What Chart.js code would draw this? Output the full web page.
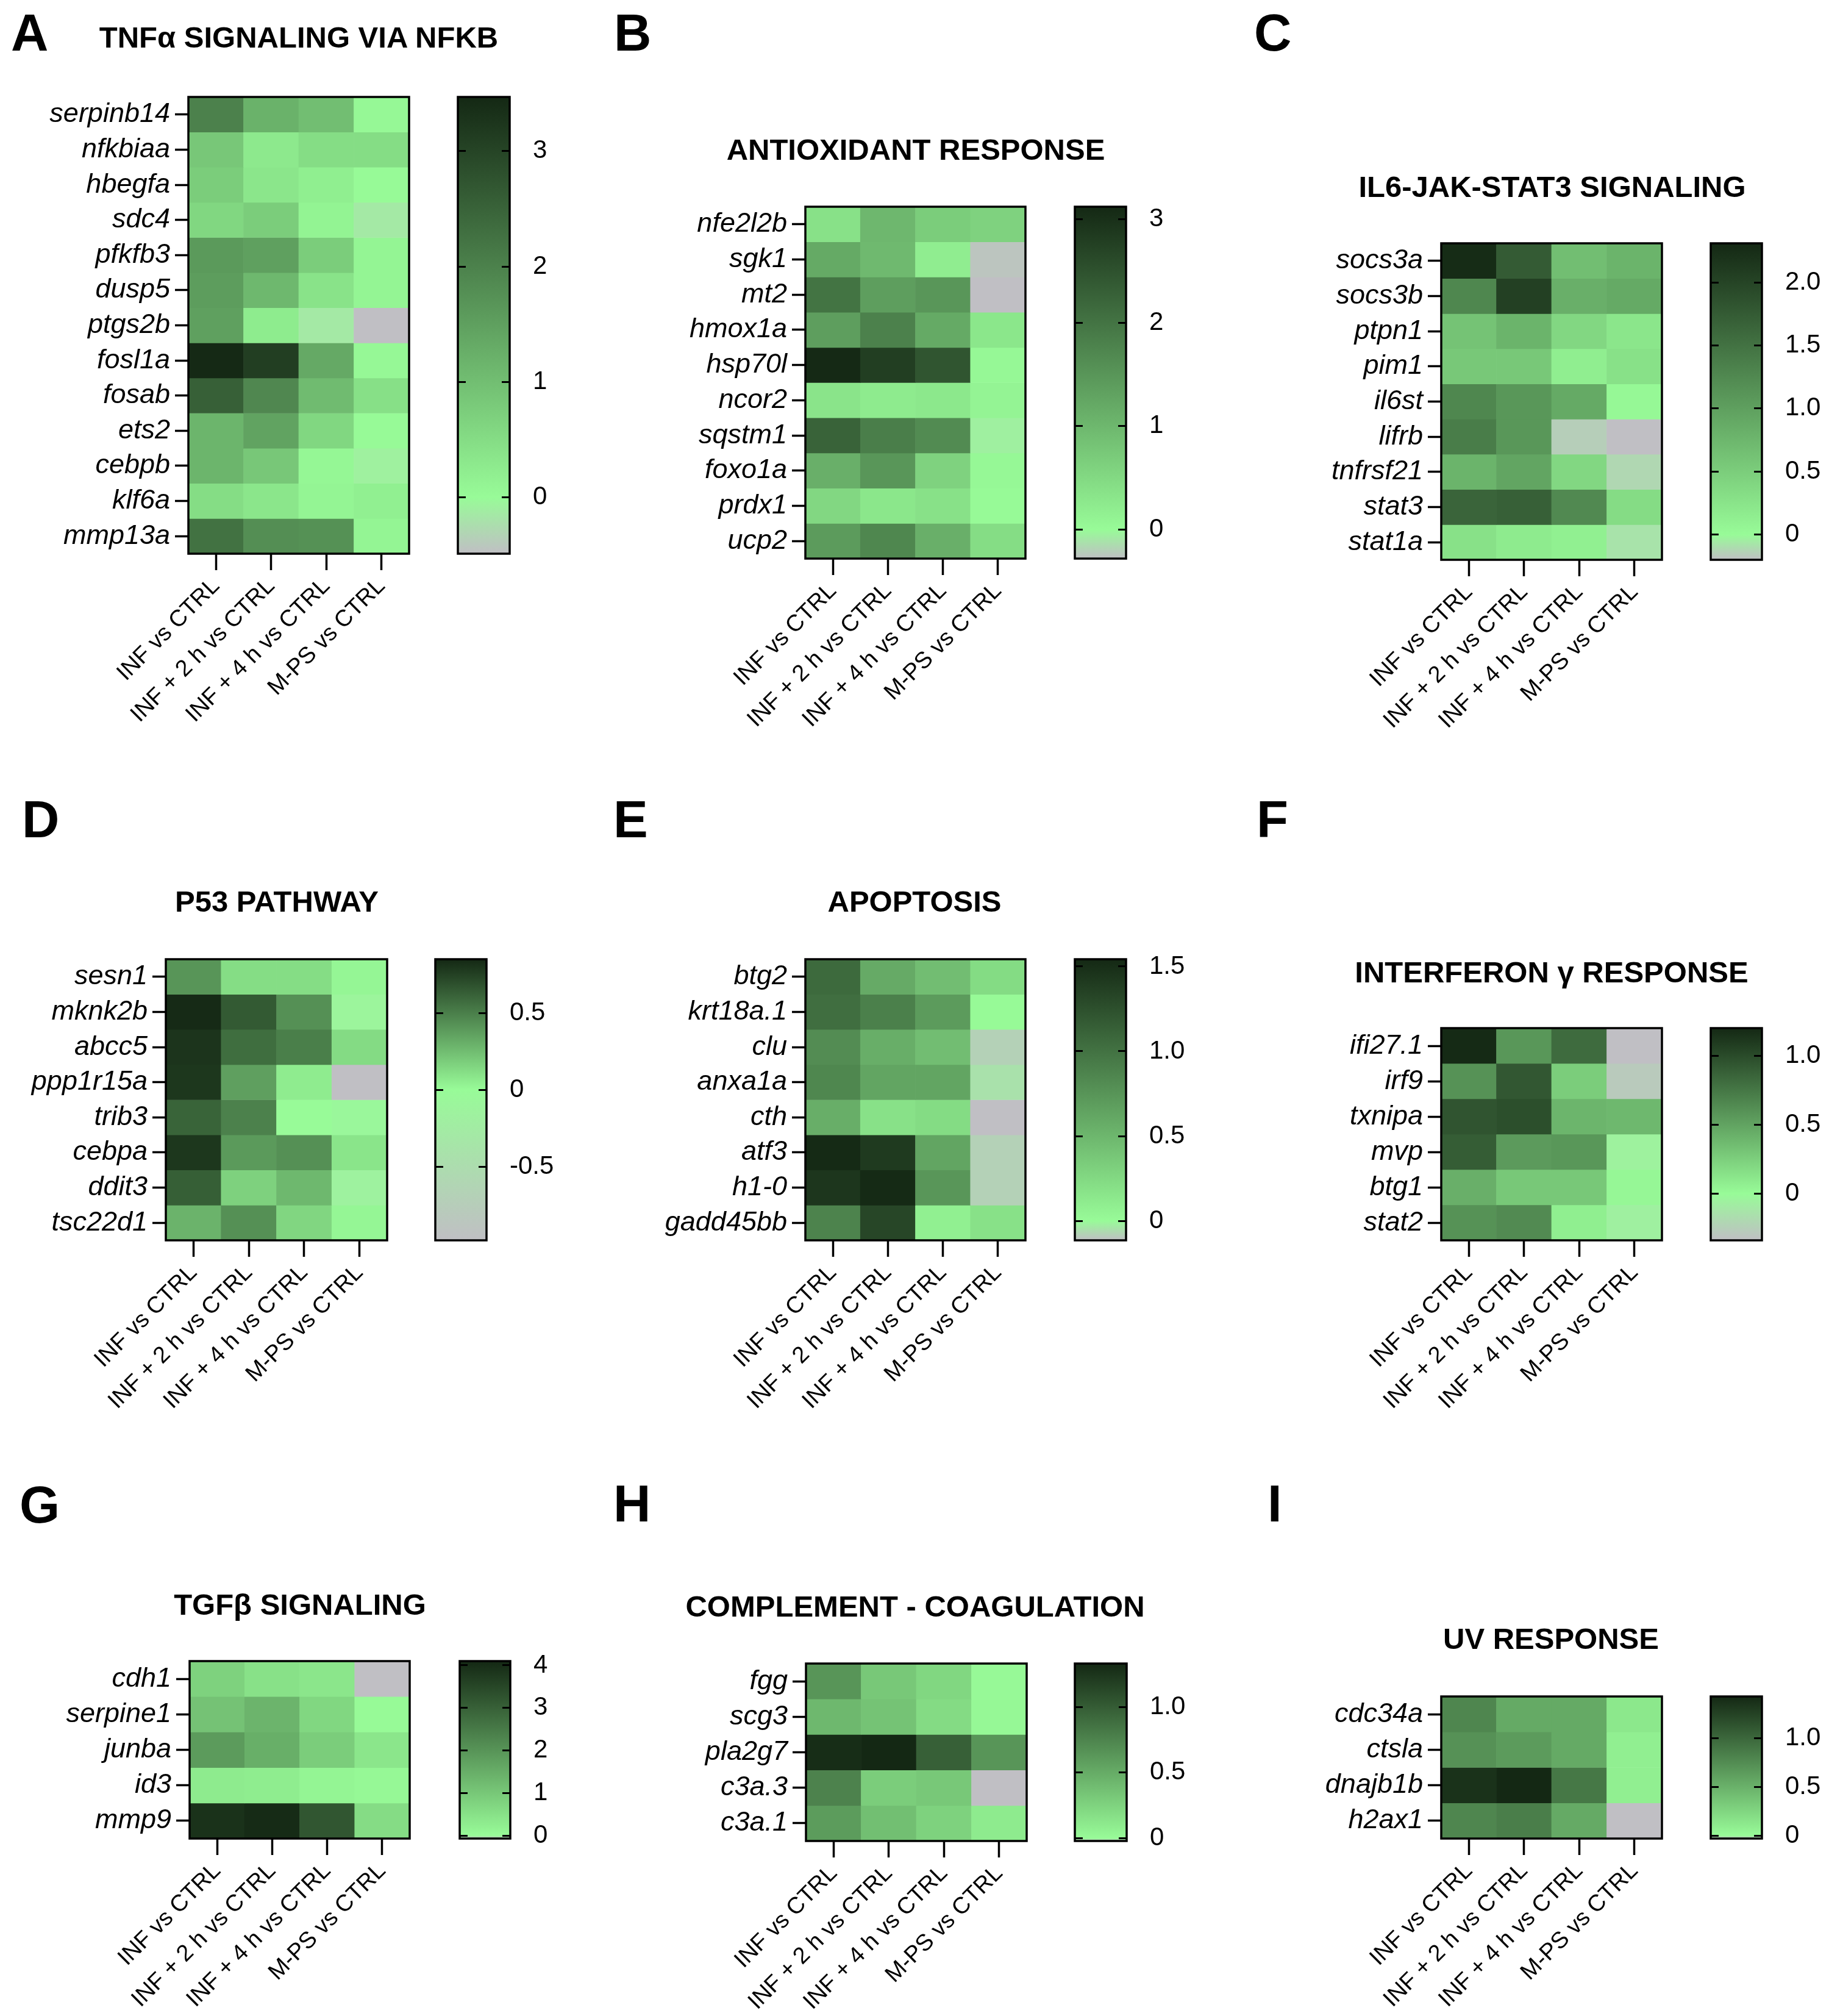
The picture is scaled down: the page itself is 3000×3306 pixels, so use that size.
<!DOCTYPE html>
<html>
<head>
<meta charset="utf-8">
<title>Hallmark heatmaps</title>
<script src="https://cdn.jsdelivr.net/npm/chart.js@4.4.0/dist/chart.umd.min.js"></script>
<style>
  html, body { margin: 0; padding: 0; background: #fff; }
  body { position: relative; width: 3000px; height: 3306px; overflow: hidden; font-family: "Liberation Sans", Arial, sans-serif; color: #000; }
  canvas { position: absolute; }
  .letter { position: absolute; font-size: 85px; font-weight: bold; line-height: 1; transform: translateY(-50%); }
  .title { position: absolute; font-size: 49px; font-weight: bold; line-height: 1; white-space: nowrap; transform: translate(-50%, -50%); }
</style>
</head>
<body>
<script>
const conditions = ['INF vs CTRL', 'INF + 2 h vs CTRL', 'INF + 4 h vs CTRL', 'M-PS vs CTRL'];

// A - TNFa signaling
const tnfGenes = ['serpinb14', 'nfkbiaa', 'hbegfa', 'sdc4', 'pfkfb3', 'dusp5', 'ptgs2b', 'fosl1a', 'fosab', 'ets2', 'cebpb', 'klf6a', 'mmp13a'];
const tnfValues = [
  [2.0, 1.2, 1.0, 0.05],
  [0.85, 0.3, 0.5, 0.5],
  [0.75, 0.35, 0.2, 0.02],
  [0.6, 0.75, 0.12, -0.15],
  [1.6, 1.5, 0.75, 0.1],
  [1.55, 1.1, 0.4, 0.1],
  [1.5, 0.25, -0.15, -0.49],
  [3.45, 3.1, 1.35, 0.05],
  [2.55, 1.9, 1.05, 0.45],
  [1.15, 1.45, 0.6, 0.02],
  [1.15, 0.85, 0.07, -0.08],
  [0.5, 0.35, 0.1, 0.18],
  [2.25, 1.8, 1.75, 0.1]
];
const tnfRange = [-0.49, 3.47];
const tnfTicks = [0, 1, 2, 3];

// B - antioxidant response
const antiGenes = ['nfe2l2b', 'sgk1', 'mt2', 'hmox1a', 'hsp70l', 'ncor2', 'sqstm1', 'foxo1a', 'prdx1', 'ucp2'];
const antiValues = [
  [0.38, 1.0, 0.68, 0.6],
  [1.2, 0.98, 0.2, -0.25],
  [2.0, 1.37, 1.5, -0.28],
  [1.37, 1.8, 1.2, 0.3],
  [3.1, 2.8, 2.45, 0.05],
  [0.34, 0.24, 0.28, 0.1],
  [2.25, 1.85, 1.65, -0.05],
  [1.12, 1.5, 0.6, 0.04],
  [0.53, 0.3, 0.38, 0.02],
  [1.42, 1.72, 1.12, 0.45]
];
const antiRange = [-0.28, 3.12];
const antiTicks = [0, 1, 2, 3];

// C - IL6-JAK-STAT3 signaling
const il6Genes = ['socs3a', 'socs3b', 'ptpn1', 'pim1', 'il6st', 'lifrb', 'tnfrsf21', 'stat3', 'stat1a'];
const il6Values = [
  [2.27, 1.75, 0.67, 0.78],
  [1.27, 2.05, 0.83, 0.89],
  [0.61, 0.78, 0.39, 0.23],
  [0.56, 0.56, 0.14, 0.28],
  [1.27, 1.1, 0.89, 0.03],
  [1.38, 1.1, -0.15, -0.2],
  [0.78, 0.94, 0.39, -0.12],
  [1.65, 1.7, 1.25, 0.34],
  [0.28, 0.18, 0.12, -0.08]
];
const il6Range = [-0.2, 2.31];
const il6Ticks = [0, 0.5, 1, 1.5, 2];

// D - P53 pathway
const p53Genes = ['sesn1', 'mknk2b', 'abcc5', 'ppp1r15a', 'trib3', 'cebpa', 'ddit3', 'tsc22d1'];
const p53Values = [
  [0.41, 0.12, 0.12, 0.02],
  [0.84, 0.65, 0.43, -0.1],
  [0.8, 0.57, 0.5, 0.13],
  [0.79, 0.37, 0.06, -0.98],
  [0.61, 0.49, 0.0, -0.06],
  [0.79, 0.39, 0.43, 0.09],
  [0.63, 0.17, 0.27, -0.15],
  [0.29, 0.43, 0.15, 0.02]
];
const p53Range = [-0.98, 0.85];
const p53Ticks = [-0.5, 0, 0.5];

// E - apoptosis
const apoGenes = ['btg2', 'krt18a.1', 'clu', 'anxa1a', 'cth', 'atf3', 'h1-0', 'gadd45bb'];
const apoValues = [
  [1.06, 0.59, 0.45, 0.23],
  [1.03, 0.9, 0.7, 0.01],
  [0.81, 0.56, 0.45, -0.08],
  [0.85, 0.63, 0.63, -0.05],
  [0.56, 0.19, 0.23, -0.115],
  [1.53, 1.41, 0.63, -0.08],
  [1.44, 1.53, 0.74, -0.08],
  [0.88, 1.32, 0.08, 0.19]
];
const apoRange = [-0.115, 1.543];
const apoTicks = [0, 0.5, 1, 1.5];

// F - interferon gamma response
const ifnGenes = ['ifi27.1', 'irf9', 'txnipa', 'mvp', 'btg1', 'stat2'];
const ifnValues = [
  [1.19, 0.57, 0.82, -0.34],
  [0.6, 0.93, 0.26, -0.28],
  [0.95, 0.98, 0.4, 0.38],
  [0.9, 0.55, 0.57, -0.05],
  [0.43, 0.29, 0.29, 0.02],
  [0.6, 0.64, 0.07, -0.06]
];
const ifnRange = [-0.34, 1.2];
const ifnTicks = [0, 0.5, 1];

// G - TGFb signaling
const tgfGenes = ['cdh1', 'serpine1', 'junba', 'id3', 'mmp9'];
const tgfValues = [
  [0.8, 0.5, 0.4, -0.07],
  [1.1, 1.38, 0.7, 0.02],
  [1.87, 1.48, 0.9, 0.4],
  [0.31, 0.27, 0.12, 0.06],
  [3.9, 4.05, 3.2, 0.6]
];
const tgfRange = [-0.07, 4.1];
const tgfTicks = [0, 1, 2, 3, 4];

// H - complement / coagulation
const compGenes = ['fgg', 'scg3', 'pla2g7', 'c3a.3', 'c3a.1'];
const compValues = [
  [0.64, 0.32, 0.23, 0.01],
  [0.42, 0.35, 0.2, 0.02],
  [1.3, 1.33, 0.98, 0.64],
  [0.76, 0.29, 0.32, -0.02],
  [0.6, 0.38, 0.26, 0.1]
];
const compRange = [-0.02, 1.33];
const compTicks = [0, 0.5, 1];

// I - UV response
const uvGenes = ['cdc34a', 'ctsla', 'dnajb1b', 'h2ax1'];
const uvValues = [
  [0.79, 0.55, 0.55, 0.13],
  [0.72, 0.65, 0.55, 0.08],
  [1.36, 1.43, 0.89, 0.08],
  [0.79, 0.85, 0.55, -0.03]
];
const uvRange = [-0.03, 1.43];
const uvTicks = [0, 0.5, 1];

const panels = [
  { letter: 'A', title: 'TNFα SIGNALING VIA NFKB', genes: tnfGenes, values: tnfValues, range: tnfRange, ticks: tnfTicks, dec: 0,
    heat: [309, 159, 671, 908], bar: [751, 836], titleAt: [490, 61], letterAt: [18, 53] },
  { letter: 'B', title: 'ANTIOXIDANT RESPONSE', genes: antiGenes, values: antiValues, range: antiRange, ticks: antiTicks, dec: 0,
    heat: [1321, 339, 1682, 916], bar: [1763, 1847], titleAt: [1502, 245], letterAt: [1007, 53] },
  { letter: 'C', title: 'IL6-JAK-STAT3 SIGNALING', genes: il6Genes, values: il6Values, range: il6Range, ticks: il6Ticks, dec: 1,
    heat: [2364, 399, 2726, 918], bar: [2806, 2890], titleAt: [2546, 306], letterAt: [2057, 53] },
  { letter: 'D', title: 'P53 PATHWAY', genes: p53Genes, values: p53Values, range: p53Range, ticks: p53Ticks, dec: 1,
    heat: [272, 1573, 635, 2034], bar: [714, 798], titleAt: [454, 1478], letterAt: [36, 1343] },
  { letter: 'E', title: 'APOPTOSIS', genes: apoGenes, values: apoValues, range: apoRange, ticks: apoTicks, dec: 1,
    heat: [1321, 1573, 1682, 2034], bar: [1763, 1847], titleAt: [1500, 1478], letterAt: [1006, 1343] },
  { letter: 'F', title: 'INTERFERON γ RESPONSE', genes: ifnGenes, values: ifnValues, range: ifnRange, ticks: ifnTicks, dec: 1,
    heat: [2364, 1686, 2726, 2034], bar: [2806, 2890], titleAt: [2545, 1594], letterAt: [2061, 1343] },
  { letter: 'G', title: 'TGFβ SIGNALING', genes: tgfGenes, values: tgfValues, range: tgfRange, ticks: tgfTicks, dec: 0,
    heat: [311, 2724, 672, 3015], bar: [754, 837], titleAt: [492, 2631], letterAt: [32, 2467] },
  { letter: 'H', title: 'COMPLEMENT - COAGULATION', genes: compGenes, values: compValues, range: compRange, ticks: compTicks, dec: 1,
    heat: [1322, 2728, 1684, 3019], bar: [1763, 1848], titleAt: [1501, 2634], letterAt: [1006, 2465] },
  { letter: 'I', title: 'UV RESPONSE', genes: uvGenes, values: uvValues, range: uvRange, ticks: uvTicks, dec: 1,
    heat: [2364, 2782, 2726, 3015], bar: [2806, 2890], titleAt: [2544, 2687], letterAt: [2079, 2465] }
];

Chart.defaults.font.family = '"Liberation Sans", Arial, sans-serif';
Chart.defaults.color = '#000';

// colour ramp: grey at the minimum, pale green at 0, dark green at the maximum
const GRAY = [192, 191, 196];
const LIGHT = [152, 251, 152];
const DARK = [20, 40, 20];

function mix(a, b, t) {
  return 'rgb(' + a.map((c, i) => Math.round(c + (b[i] - c) * t)).join(',') + ')';
}

function cellColor(v, range) {
  const [lo, hi] = range;
  if (v < 0) return mix(LIGHT, GRAY, Math.min(v / lo, 1));
  return mix(LIGHT, DARK, Math.min(v / hi, 1));
}

function fmt(v, dec) {
  return v === 0 ? '0' : v.toFixed(dec);
}

const AXW = 260, AXH = 330, PT = 40, PR = 6;
const CBW = 130, CBP = 30;

const frame = {
  id: 'frame',
  afterDraw(chart) {
    const {ctx, chartArea: a} = chart;
    ctx.save();
    ctx.strokeStyle = '#000';
    ctx.lineWidth = 3.5;
    ctx.strokeRect(a.left, a.top, a.right - a.left, a.bottom - a.top);
    ctx.restore();
  }
};

const ramp = {
  id: 'ramp',
  beforeDraw(chart, args, opts) {
    const {ctx, chartArea: a, scales: {y}} = chart;
    const [lo, hi] = opts.range;
    const g = ctx.createLinearGradient(0, y.getPixelForValue(lo), 0, y.getPixelForValue(hi));
    g.addColorStop(0, mix(GRAY, GRAY, 0));
    g.addColorStop(-lo / (hi - lo), mix(LIGHT, LIGHT, 0));
    g.addColorStop(1, mix(DARK, DARK, 0));
    ctx.save();
    ctx.fillStyle = g;
    ctx.fillRect(a.left, a.top, a.right - a.left, a.bottom - a.top);
    ctx.restore();
  }
};

function addCanvas(left, top, w, h) {
  const c = document.createElement('canvas');
  c.width = w;
  c.height = h;
  c.style.left = left + 'px';
  c.style.top = top + 'px';
  c.style.width = w + 'px';
  c.style.height = h + 'px';
  document.body.appendChild(c);
  return c;
}

function addText(cls, text, x, y) {
  const d = document.createElement('div');
  d.className = cls;
  d.textContent = text;
  d.style.left = x + 'px';
  d.style.top = y + 'px';
  document.body.appendChild(d);
}

function drawHeatmap(p) {
  const [x0, y0, x1, y1] = p.heat;
  const cv = addCanvas(x0 - AXW, y0 - PT, x1 - x0 + AXW + PR, y1 - y0 + PT + AXH);
  new Chart(cv, {
    type: 'bar',
    data: {
      labels: conditions,
      datasets: p.genes.map((g, i) => ({
        label: g,
        data: conditions.map(() => [i, i + 1]),
        backgroundColor: p.values[i].map(v => cellColor(v, p.range)),
        borderWidth: 0,
        barPercentage: 1,
        categoryPercentage: 1,
        grouped: false
      }))
    },
    options: {
      responsive: false,
      animation: false,
      devicePixelRatio: 1,
      layout: { padding: { left: 0, top: PT, right: PR, bottom: 0 } },
      plugins: { legend: { display: false }, tooltip: { enabled: false } },
      scales: {
        x: {
          afterFit: s => { s.height = AXH; },
          grid: { offset: false, drawOnChartArea: false, drawTicks: true, tickLength: 27, tickWidth: 3.5, tickColor: '#000' },
          border: { display: false },
          ticks: { color: '#000', font: { size: 38 }, minRotation: 45, maxRotation: 45, autoSkip: false, padding: 4 }
        },
        y: {
          type: 'linear',
          reverse: true,
          min: 0,
          max: p.genes.length,
          afterFit: s => { s.width = AXW; },
          afterBuildTicks: s => { s.ticks = p.genes.map((g, i) => ({ value: i + 0.5 })); },
          grid: { drawOnChartArea: false, drawTicks: true, tickLength: 22, tickWidth: 3.5, tickColor: '#000' },
          border: { display: false },
          ticks: { color: '#000', font: { size: 45, style: 'italic' }, padding: 8, autoSkip: false,
                   callback: v => p.genes[Math.floor(v)] }
        }
      }
    },
    plugins: [frame]
  });
}

function drawColorbar(p) {
  const [, y0, , y1] = p.heat;
  const [b0, b1] = p.bar;
  const w = b1 - b0;
  const cv = addCanvas(b0 - 4, y0 - CBP, w + 4 + CBW, y1 - y0 + 2 * CBP);
  new Chart(cv, {
    type: 'bar',
    data: { labels: [''], datasets: [] },
    options: {
      responsive: false,
      animation: false,
      devicePixelRatio: 1,
      layout: { padding: { left: 4, top: CBP, right: 0, bottom: CBP } },
      plugins: { legend: { display: false }, tooltip: { enabled: false }, ramp: { range: p.range } },
      scales: {
        x: { display: false },
        y: {
          position: 'right',
          min: p.range[0],
          max: p.range[1],
          afterFit: s => { s.width = CBW; },
          afterBuildTicks: s => { s.ticks = p.ticks.map(v => ({ value: v })); },
          grid: { drawOnChartArea: true, color: '#000', lineWidth: 3, drawTicks: true, tickLength: 34, tickWidth: 0 },
          border: { display: false, dash: [13, w - 26] },
          ticks: { color: '#000', font: { size: 42 }, padding: 4, autoSkip: false, callback: v => fmt(v, p.dec) }
        }
      }
    },
    plugins: [ramp, frame]
  });
}

panels.forEach(p => {
  addText('letter', p.letter, p.letterAt[0], p.letterAt[1]);
  addText('title', p.title, p.titleAt[0], p.titleAt[1]);
  drawHeatmap(p);
  drawColorbar(p);
});
</script>
</body>
</html>
